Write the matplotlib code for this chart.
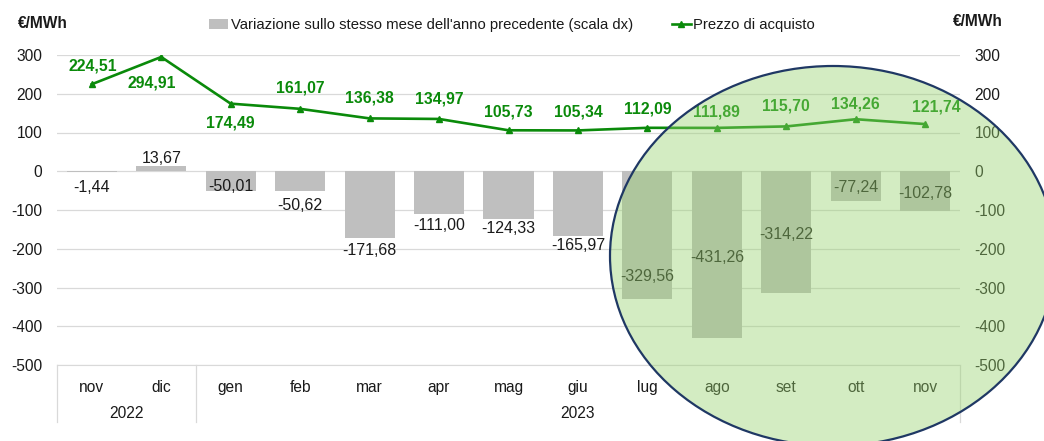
import matplotlib
matplotlib.use("Agg")
import matplotlib.pyplot as plt
import matplotlib.transforms as mtransforms
from matplotlib.patches import Ellipse, Patch
from matplotlib.lines import Line2D

plt.rcParams['font.family'] = ['Liberation Sans', 'DejaVu Sans']
plt.rcParams['axes.unicode_minus'] = False

# dati
mesi = ['nov', 'dic', 'gen', 'feb', 'mar', 'apr', 'mag', 'giu', 'lug', 'ago', 'set', 'ott', 'nov']
anni = ['2022', '2023']
prezzo = [224.51, 294.91, 174.49, 161.07, 136.38, 134.97, 105.73, 105.34, 112.09, 111.89, 115.70, 134.26, 121.74]
variazione = [-1.44, 13.67, -50.01, -50.62, -171.68, -111.00, -124.33, -165.97, -329.56, -431.26, -314.22, -77.24, -102.78]

# spostamenti etichette (punti)
off_var = [-11, 5.5, 3, -10.5, -9.5, -8, -6.5, -7, 16.5, 58, 42, 10, 13]
off_prezzo = [(0.5, 13.5), (-6.5, -18.5), (0, -14), (0, 15), (0, 14.5), (0, 14.5), (0, 13.5),
              (0, 13.5), (0, 13.5), (0, 11.5), (0, 14.5), (0, 11), (8, 12)]

verde = '#0a8a0a'
grigio = '#bfbfbf'
griglia = '#d9d9d9'
testo = '#1a1a1a'

fig = plt.figure(figsize=(10.44, 4.41), dpi=100)
ax = fig.add_axes([57/1044, 1 - 365/441, 903/1044, 310/441])

x = list(range(len(mesi)))

ax.bar(x, variazione, width=0.72, color=grigio, zorder=2)
ax.plot(x, prezzo, color=verde, lw=1.9, marker='^', ms=5, zorder=3)

for i, v in enumerate(variazione):
    ax.annotate(f"{v:.2f}".replace('.', ','), (i, v), xytext=(0, off_var[i]),
                textcoords='offset points', ha='center', va='center',
                fontsize=11.5, color=testo, zorder=4)

for i, p in enumerate(prezzo):
    ax.annotate(f"{p:.2f}".replace('.', ','), (i, p), xytext=off_prezzo[i],
                textcoords='offset points', ha='center', va='center',
                fontsize=11.3, fontweight='bold', color=verde, zorder=4)

ax.set_xlim(-0.5, len(mesi) - 0.5)
ax.set_ylim(-500, 300)
ax.set_yticks(range(-500, 301, 100))
ax.yaxis.grid(True, color=griglia, lw=0.9, zorder=0)
ax.set_axisbelow(True)
ax.set_xticks(x)
ax.set_xticklabels(mesi)

for s in ['top', 'left', 'right']:
    ax.spines[s].set_visible(False)
ax.spines['bottom'].set_color(griglia)

ax.tick_params(axis='y', length=0, pad=10.5, labelsize=11.2, labelcolor=testo,
               labelleft=True, labelright=True)
ax.tick_params(axis='x', length=0, pad=10.5, labelsize=11.2, labelcolor=testo)

# asse categorie a due livelli
trans = mtransforms.blended_transform_factory(ax.transData, ax.transAxes)
for xs in [-0.5, 1.5, len(mesi) - 0.5]:
    ax.plot([xs, xs], [0, -57/310], transform=trans, color=griglia, lw=0.9, clip_on=False)
ax.text(0.5, -48/310, anni[0], transform=trans, ha='center', va='center', fontsize=11.2, color=testo)
ax.text(7, -48/310, anni[1], transform=trans, ha='center', va='center', fontsize=11.2, color=testo)

fig.text(18/1044, 1 - 24/441, '€/MWh', ha='left', va='center', fontsize=11.2, fontweight='bold', color=testo)
fig.text(953/1044, 1 - 21/441, '€/MWh', ha='left', va='center', fontsize=11.2, fontweight='bold', color=testo)

handles = [Patch(facecolor=grigio, edgecolor='none'),
           Line2D([0], [0], color=verde, lw=1.9, marker='^', ms=5)]
fig.legend(handles, ["Variazione sullo stesso mese dell'anno precedente (scala dx)", 'Prezzo di acquisto'],
           loc='center', bbox_to_anchor=(0.4904, 1 - 25/441), ncol=2, frameon=False,
           fontsize=10.75, handlelength=1.3, handletextpad=0.15, columnspacing=2.6,
           labelcolor=testo)

# evidenziazione
ell = Ellipse((833/1044, 1 - 256/441), 446/1044, 380/441, transform=fig.transFigure,
              facecolor=(152/255, 210/255, 110/255, 0.42), edgecolor='#1f3864', lw=1.6,
              zorder=10)
fig.add_artist(ell)

fig.savefig('out.png', dpi=100)
